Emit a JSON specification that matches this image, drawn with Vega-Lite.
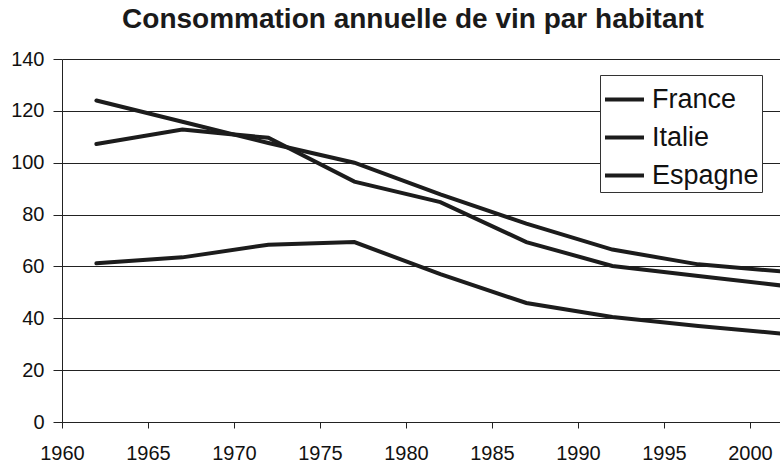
{
  "$schema": "https://vega.github.io/schema/vega-lite/v6.json",
  "autosize": {"type": "none"},
  "padding": {"left": 62, "top": 59, "right": 0, "bottom": 48},
  "width": 718,
  "height": 363,
  "background": "white",
  "title": {
    "text": "Consommation annuelle de vin par habitant",
    "font": "Liberation Sans",
    "fontSize": 28,
    "fontWeight": "bold",
    "color": "#1a1a1a",
    "anchor": "middle",
    "dx": -8,
    "baseline": "alphabetic",
    "offset": -7
  },
  "config": {
    "view": {"stroke": null},
    "font": "Liberation Sans",
    "axis": {
      "labelFont": "Liberation Sans",
      "labelFontSize": 20,
      "labelColor": "#111111",
      "domainColor": "#222222",
      "tickColor": "#222222",
      "gridColor": "#222222",
      "gridOpacity": 1,
      "domainWidth": 1,
      "gridWidth": 1,
      "tickWidth": 1
    }
  },
  "data": {
    "values": [
      {"annee": 1962, "pays": "France", "conso": 124},
      {"annee": 1967, "pays": "France", "conso": 115.8},
      {"annee": 1972, "pays": "France", "conso": 107.6},
      {"annee": 1977, "pays": "France", "conso": 100},
      {"annee": 1982, "pays": "France", "conso": 87.8},
      {"annee": 1987, "pays": "France", "conso": 76.5},
      {"annee": 1992, "pays": "France", "conso": 66.5},
      {"annee": 1997, "pays": "France", "conso": 60.8},
      {"annee": 2002, "pays": "France", "conso": 58},
      {"annee": 1962, "pays": "Italie", "conso": 107.2},
      {"annee": 1967, "pays": "Italie", "conso": 112.8},
      {"annee": 1972, "pays": "Italie", "conso": 109.6},
      {"annee": 1977, "pays": "Italie", "conso": 92.7},
      {"annee": 1982, "pays": "Italie", "conso": 84.8},
      {"annee": 1987, "pays": "Italie", "conso": 69.4},
      {"annee": 1992, "pays": "Italie", "conso": 60.2},
      {"annee": 1997, "pays": "Italie", "conso": 56.3},
      {"annee": 2002, "pays": "Italie", "conso": 52.5},
      {"annee": 1962, "pays": "Espagne", "conso": 61.2},
      {"annee": 1967, "pays": "Espagne", "conso": 63.5},
      {"annee": 1972, "pays": "Espagne", "conso": 68.4},
      {"annee": 1977, "pays": "Espagne", "conso": 69.4},
      {"annee": 1982, "pays": "Espagne", "conso": 57},
      {"annee": 1987, "pays": "Espagne", "conso": 45.9},
      {"annee": 1992, "pays": "Espagne", "conso": 40.5},
      {"annee": 1997, "pays": "Espagne", "conso": 37},
      {"annee": 2002, "pays": "Espagne", "conso": 34}
    ]
  },
  "mark": {"type": "line", "strokeWidth": 4, "clip": true, "strokeJoin": "miter", "strokeCap": "round"},
  "encoding": {
    "x": {
      "field": "annee",
      "type": "quantitative",
      "scale": {"domain": [1960, 2001.75], "nice": false, "zero": false},
      "axis": {
        "title": null,
        "values": [1960, 1965, 1970, 1975, 1980, 1985, 1990, 1995, 2000],
        "format": "d",
        "grid": false,
        "tickSize": 6,
        "labelPadding": 15,
        "labelFlush": false
      }
    },
    "y": {
      "field": "conso",
      "type": "quantitative",
      "scale": {"domain": [0, 140], "nice": false},
      "axis": {
        "title": null,
        "values": [0, 20, 40, 60, 80, 100, 120, 140],
        "grid": true,
        "tickSize": 9,
        "labelPadding": 9
      }
    },
    "color": {
      "field": "pays",
      "type": "nominal",
      "scale": {"domain": ["France", "Italie", "Espagne"], "range": ["#1c1c1c", "#1c1c1c", "#1c1c1c"]},
      "legend": {
        "title": null,
        "orient": "none",
        "legendX": 538,
        "legendY": 16,
        "fillColor": "white",
        "strokeColor": "#333333",
        "padding": 3,
        "symbolType": "stroke",
        "symbolSize": 1521,
        "symbolStrokeWidth": 4,
        "symbolStrokeColor": "#1c1c1c",
        "labelFont": "Liberation Sans",
        "labelFontSize": 27,
        "labelColor": "#111111",
        "labelOffset": 6,
        "rowPadding": 3,
        "labelLimit": 0
      }
    }
  }
}
